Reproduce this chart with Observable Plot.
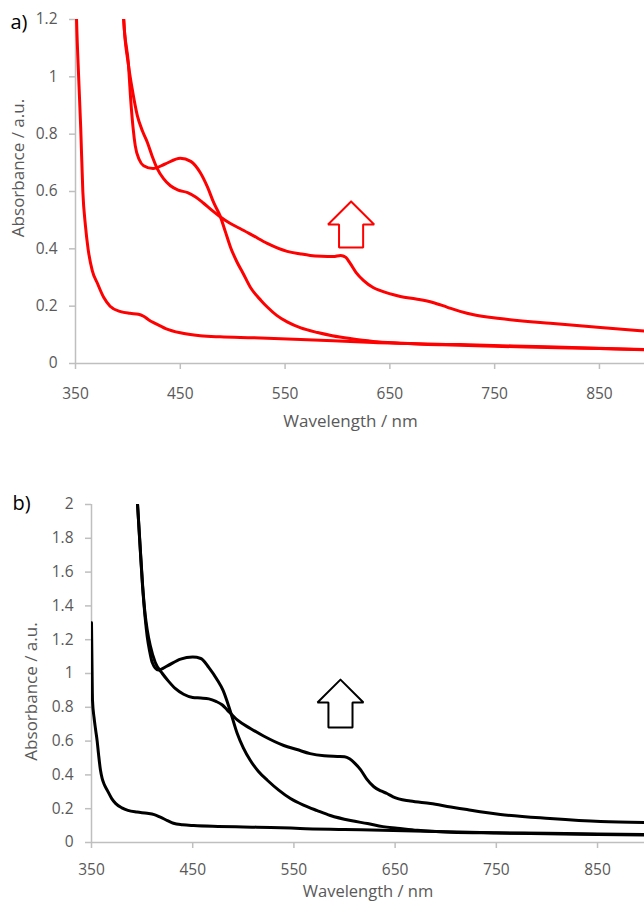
<!DOCTYPE html>
<html>
<head>
<meta charset="utf-8">
<script src="https://cdn.jsdelivr.net/npm/d3@7"></script>
<script src="https://cdn.jsdelivr.net/npm/@observablehq/plot@0.6"></script>
<style>
  html, body { margin: 0; padding: 0; background: #fff; }
  #chart { position: relative; width: 644px; height: 902px; overflow: hidden; font-family: "Open Sans", sans-serif; }
  #chart svg { position: absolute; left: 0; }
</style>
</head>
<body>
<div id="chart"></div>
<script>
// ---- tick labels ----
const xTicks = [350, 450, 550, 650, 750, 850];
const yTicksA = [0, 0.2, 0.4, 0.6, 0.8, 1, 1.2];
const yTicksB = [0, 0.2, 0.4, 0.6, 0.8, 1, 1.2, 1.4, 1.6, 1.8, 2];

// ---- text ----
const panelLabelA = "a)";
const panelLabelB = "b)";
const xLabel = "Wavelength / nm";
const yLabel = "Absorbance / a.u.";

// ---- panel a) red spectra: [wavelength nm, absorbance] ----
const redA = [[350,1.35],[351,1.2],[353,1.0],[355,0.82],[357,0.6],[359.5,0.48],[362,0.40],[366,0.324],[371,0.279],[377,0.23],[383,0.2],[393,0.181],[402,0.175],[410,0.172],[415,0.165],[420,0.152],[426,0.14],[436,0.122],[450,0.107],[469,0.097],[488,0.093],[520,0.09],[565,0.084],[634,0.073],[717,0.066],[800,0.058],[893,0.049]];
const redB = [[395,1.3],[396,1.2],[400.6,1.04],[402.5,0.93],[405,0.82],[407,0.76],[411,0.71],[415,0.69],[424,0.68],[435,0.695],[450,0.716],[460,0.705],[469,0.666],[476,0.615],[482,0.56],[488,0.515],[493,0.46],[498,0.405],[504,0.355],[510,0.314],[517,0.265],[527,0.22],[533,0.197],[542,0.168],[552,0.145],[565,0.124],[581,0.108],[595,0.097],[612,0.087],[634,0.077],[660,0.071],[700,0.065],[750,0.06],[800,0.056],[850,0.052],[893,0.048]];
const redC = [[395,1.3],[396,1.2],[400.6,1.04],[404,0.96],[409,0.865],[414,0.81],[418.7,0.77],[423,0.725],[428,0.68],[434,0.645],[440.6,0.62],[448,0.605],[457,0.596],[465,0.58],[472,0.56],[480,0.535],[488,0.512],[497,0.49],[507,0.471],[520,0.445],[533,0.419],[552,0.391],[565,0.382],[574,0.377],[585,0.374],[596,0.373],[603,0.377],[608,0.37],[612,0.35],[618,0.316],[625,0.289],[634,0.265],[641,0.254],[660,0.234],[675,0.225],[691,0.213],[705,0.196],[717,0.182],[730,0.17],[755,0.157],[803,0.14],[851,0.126],[893,0.113]];

// ---- panel b) black spectra ----
const blackA = [[350,1.3],[350.5,1.05],[351,0.84],[352.5,0.74],[354,0.67],[355.6,0.6],[357,0.52],[358.8,0.43],[360.5,0.38],[362.5,0.345],[365.5,0.31],[370,0.26],[374,0.23],[380,0.205],[386,0.19],[395,0.18],[405,0.173],[412,0.165],[418,0.15],[425,0.13],[431,0.114],[440,0.105],[451,0.1],[475,0.095],[500,0.092],[537,0.088],[556,0.083],[600,0.077],[648,0.071],[700,0.064],[734,0.059],[800,0.054],[850,0.05],[897,0.047]];
const blackB = [[394.5,2.1],[395.5,2.0],[398,1.75],[400.4,1.52],[403,1.33],[405,1.22],[407.5,1.13],[410,1.065],[416,1.02],[425,1.045],[438,1.085],[450,1.097],[458,1.089],[466,1.035],[474,0.965],[480,0.9],[487,0.78],[494,0.645],[500,0.56],[507,0.485],[515,0.42],[524,0.367],[535,0.31],[546.6,0.26],[560,0.22],[573,0.189],[586,0.16],[606,0.13],[622.7,0.112],[638,0.094],[652,0.085],[672,0.072],[705,0.061],[750,0.056],[800,0.052],[850,0.048],[897,0.045]];
const blackC = [[394.5,2.1],[395.5,2.0],[398,1.76],[400.4,1.53],[403,1.35],[405,1.26],[408,1.166],[413,1.065],[420,1.0],[426,0.955],[433,0.91],[441,0.877],[450,0.858],[458,0.855],[466,0.85],[473,0.835],[479,0.815],[484,0.785],[494,0.725],[507,0.675],[520,0.63],[540,0.574],[553,0.55],[566,0.526],[580,0.513],[593,0.509],[600,0.507],[605,0.495],[610,0.47],[616,0.43],[622,0.375],[629,0.33],[636,0.305],[642,0.29],[648,0.27],[665,0.245],[685,0.231],[705,0.21],[721,0.195],[734,0.182],[754,0.166],[803,0.142],[853,0.124],[897,0.118]];

// ---- annotation arrows (data space): tip wavelength, tip/head/base absorbance, half widths in nm ----
const arrowA = {x: 613, tip: 0.565, head: 0.485, base: 0.405, headHalf: 22, shaftHalf: 11.5};
const arrowB = {x: 596, tip: 0.964, head: 0.828, base: 0.680, headHalf: 22.7, shaftHalf: 11.9};

function arrowPolygon(a) {
  return [
    [a.x, a.tip], [a.x + a.headHalf, a.head], [a.x + a.shaftHalf, a.head],
    [a.x + a.shaftHalf, a.base], [a.x - a.shaftHalf, a.base], [a.x - a.shaftHalf, a.head],
    [a.x - a.headHalf, a.head], [a.x, a.tip]
  ];
}

const AXIS = "#bfbfbf";
const TXT = "#595959";

function panel({series, color, yDomain, yTicks, xDomain, marginTop, marginBottom, marginLeft, height, arrow, panelLabel, pdx, pdy, xdx, xdy, xfs, xpad, ydx, ydy}) {
  return Plot.plot({
    width: 644,
    height,
    marginTop, marginBottom, marginLeft, marginRight: 0,
    style: {fontFamily: "'Open Sans', sans-serif", background: "transparent", overflow: "visible"},
    x: {domain: xDomain},
    y: {domain: yDomain},
    marks: [
      Plot.axisX({ticks: xTicks, tickSize: 6, tickPadding: xpad, fontSize: 15.5, stroke: AXIS, fill: TXT, strokeWidth: 1.5, label: null, tickFormat: d => String(d)}),
      Plot.axisY({ticks: yTicks, tickSize: 6, tickPadding: 12, fontSize: 15.5, stroke: AXIS, fill: TXT, strokeWidth: 1.5, label: null, tickFormat: d => String(d)}),
      Plot.ruleX([xDomain[0]], {stroke: AXIS, strokeWidth: 1.5}),
      Plot.ruleY([0], {stroke: AXIS, strokeWidth: 1.5}),
      ...series.map(s => Plot.line(s, {x: d => d[0], y: d => d[1], stroke: color, strokeWidth: 3, curve: "monotone-x", clip: true})),
      Plot.line(arrowPolygon(arrow), {x: d => d[0], y: d => d[1], stroke: color, strokeWidth: 2, strokeLinejoin: "miter", curve: "linear"}),
      Plot.text([panelLabel], {frameAnchor: "top-left", textAnchor: "start", lineAnchor: "middle", dx: pdx, dy: pdy, fontSize: 20, fill: "#000"}),
      Plot.text([xLabel], {frameAnchor: "bottom", textAnchor: "middle", lineAnchor: "middle", dx: xdx, dy: xdy, fontSize: xfs, fill: TXT}),
      Plot.text([yLabel], {frameAnchor: "left", textAnchor: "middle", lineAnchor: "middle", rotate: -90, dx: ydx, dy: ydy, fontSize: 17, fill: TXT})
    ]
  });
}

const panelTop = panel({
  series: [redA, redB, redC], color: "#ff0000",
  yDomain: [0, 1.2], yTicks: yTicksA, xDomain: [350, 893],
  marginTop: 19, marginBottom: 87, marginLeft: 75, height: 450,
  arrow: arrowA, panelLabel: panelLabelA, pdx: -65, pdy: 3,
  xdx: -9.5, xdy: 58, xfs: 17, xpad: 18, ydx: -57, ydy: -23.5
});
panelTop.style.top = "0px";

const panelBottom = panel({
  series: [blackA, blackB, blackC], color: "#000000",
  yDomain: [0, 2], yTicks: yTicksB, xDomain: [350, 896.4],
  marginTop: 54, marginBottom: 60, marginLeft: 91, height: 452,
  arrow: arrowB, panelLabel: panelLabelB, pdx: -79, pdy: -1,
  xdx: 0, xdy: 49.5, xfs: 16.5, xpad: 15, ydx: -60, ydy: 18
});
panelBottom.style.top = "450px";

const chart = document.getElementById("chart");
chart.appendChild(panelTop);
chart.appendChild(panelBottom);
</script>
</body>
</html>
